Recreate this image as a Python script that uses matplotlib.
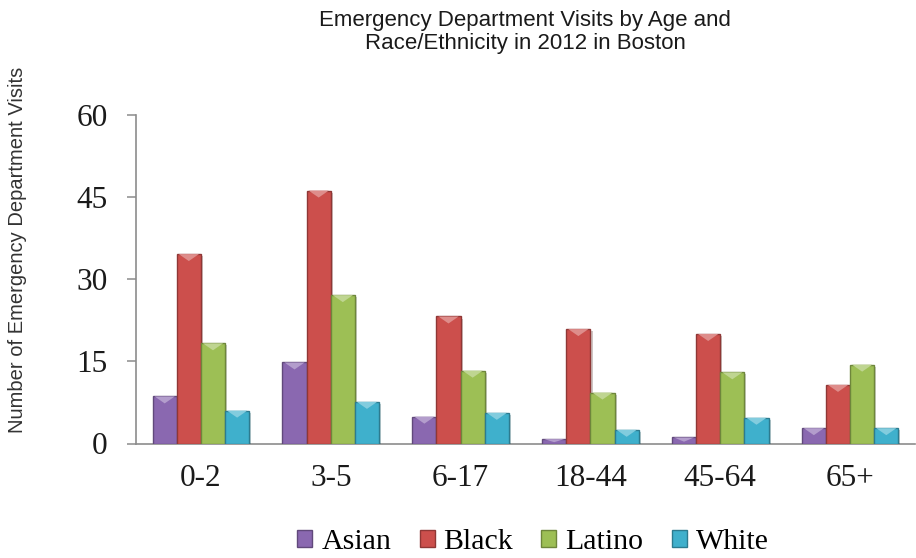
import matplotlib
matplotlib.use("Agg")
import matplotlib.pyplot as plt
import matplotlib.patheffects as pe
from matplotlib.patches import Patch, Polygon
from matplotlib.colors import to_rgb
import numpy as np

# Data: emergency department visits by age group and race/ethnicity (Boston, 2012)
age_groups = ["0-2", "3-5", "6-17", "18-44", "45-64", "65+"]
asian = [8.6, 14.8, 4.9, 0.8, 1.1, 2.8]
black = [34.6, 46.2, 23.2, 20.9, 20.0, 10.7]
latino = [18.3, 27.1, 13.3, 9.3, 13.0, 14.4]
white = [6.0, 7.6, 5.6, 2.5, 4.7, 2.8]

series_names = ["Asian", "Black", "Latino", "White"]
series_values = [asian, black, latino, white]
series_colors = ["#8a68b0", "#cc4f4c", "#9dbf55", "#3fb0cc"]
y_ticks = [0, 15, 30, 45, 60]


def shade(color, f):
    r, g, b = to_rgb(color)
    if f < 1:
        return (r * f, g * f, b * f)
    t = f - 1
    return (r + (1 - r) * t, g + (1 - g) * t, b + (1 - b) * t)


W, H = 916, 558
fig = plt.figure(figsize=(W / 100, H / 100), dpi=100)
ax = fig.add_axes([136 / W, 1 - 443.5 / H, 779 / W, (443.5 - 115) / H])

x = np.arange(len(age_groups))
bw = 0.186
offsets = (np.arange(len(series_names)) - 1.5) * bw

ax.set_xlim(-0.5, len(age_groups) - 0.5)
ax.set_ylim(0, 60)

# data units per pixel (vertical), used for the bevelled cap
px = 60 / (ax.get_position().height * H)
shadow = [pe.SimplePatchShadow(offset=(1.5, -1.5), alpha=0.25), pe.Normal()]

for vals, col, off in zip(series_values, series_colors, offsets):
    bars = ax.bar(x + off, vals, width=bw, color=col,
                  edgecolor=shade(col, 0.7), linewidth=1.0, zorder=3)
    for rect in bars:
        rect.set_path_effects(shadow)
        x0, w, h = rect.get_x(), rect.get_width(), rect.get_height()
        depth = min(7 * px, h * 0.7)
        tri = Polygon([(x0 + w * 0.08, h), (x0 + w * 0.92, h),
                       (x0 + w / 2, h - depth)], closed=True,
                      facecolor=shade(col, 1.35), edgecolor="none", zorder=4)
        ax.add_patch(tri)

for s in ["top", "right"]:
    ax.spines[s].set_visible(False)
for s in ["left", "bottom"]:
    ax.spines[s].set_color("#8c8c8c")
    ax.spines[s].set_linewidth(1.2)

ax.set_yticks(y_ticks)
ax.set_xticks(x)
ax.set_xticklabels(age_groups)
ax.tick_params(axis="y", direction="out", length=6.5, width=1.1,
               color="#8c8c8c", pad=14, labelsize=22.5)
ax.tick_params(axis="x", length=0, pad=15, labelsize=22.5)
for lab in ax.get_xticklabels() + ax.get_yticklabels():
    lab.set_family("Liberation Serif")
    lab.set_color("#1a1a1a")

fig.text(525 / W, 1 - 32 / H,
         "Emergency Department Visits by Age and\nRace/Ethnicity in 2012 in Boston",
         ha="center", va="center", fontsize=16, family="Liberation Sans",
         color="#1a1a1a", linespacing=1.1)

fig.text(18 / W, 1 - 250 / H, "Number of Emergency Department Visits",
         rotation=90, ha="center", va="center", fontsize=14.5,
         family="Liberation Sans", color="#333333")

handles = [Patch(facecolor=c, edgecolor=shade(c, 0.7), linewidth=1.0)
           for c in series_colors]
fig.legend(handles, series_names, loc="center",
           bbox_to_anchor=(533 / W, 1 - 542 / H), ncol=4, frameon=False,
           prop={"family": "Liberation Serif", "size": 21.5},
           handlelength=0.5, handleheight=0.5, handletextpad=0.3,
           columnspacing=0.95, borderaxespad=0, borderpad=0)

fig.savefig("out.png", dpi=100)
